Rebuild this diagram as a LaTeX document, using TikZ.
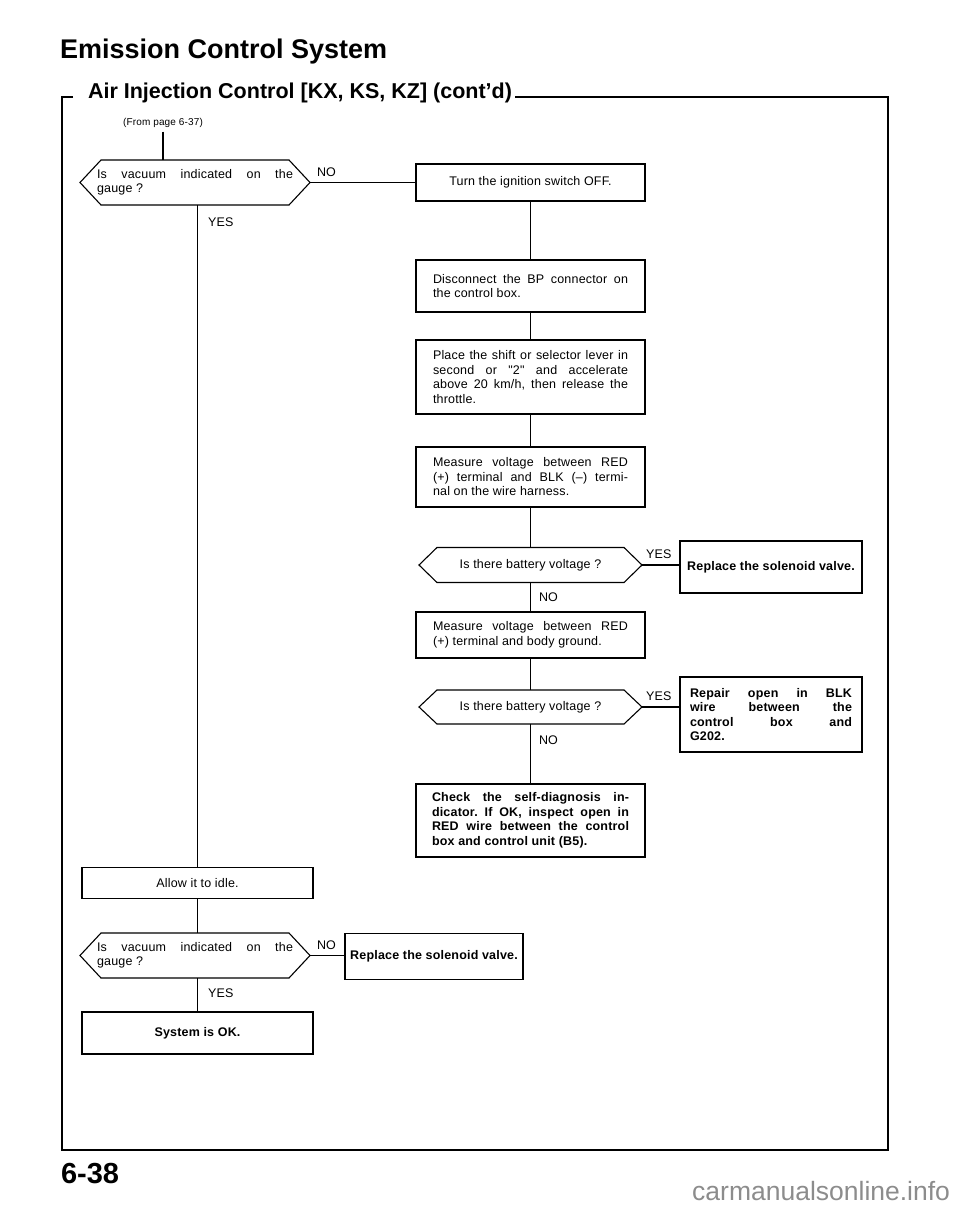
\documentclass[tikz,border=0pt]{standalone}
\usepackage{fontspec}
\setmainfont{Liberation Sans}
\newfontfamily\hfont{Liberation Sans}
\newfontfamily\bodyfont[LetterSpace=1.5]{Liberation Sans}
\frenchspacing
\tikzset{
  every node/.style={inner sep=0pt, outer sep=0pt},
  body/.style={font=\bodyfont\fontsize{12.5}{14.5}\selectfont},
  box/.style={draw, line width=1.1pt, body},
  bbox/.style={box, font=\bodyfont\fontsize{12.5}{14.5}\selectfont\bfseries},
  hexa/.style={body},
  lbl/.style={font=\bodyfont\fontsize{12.5}{13}\selectfont},
  conn/.style={line width=1.1pt},
  frame/.style={line width=1.8pt},
}
\newcommand\hexdraw[2]{\draw[conn] (#1.west) -- ([xshift=#2]#1.north west) -- ([xshift=-#2]#1.north east) -- (#1.east) -- ([xshift=-#2]#1.south east) -- ([xshift=#2]#1.south west) -- cycle;}
\begin{document}
\begin{tikzpicture}[x=1pt,y=-1pt]
\useasboundingbox (0,0) rectangle (960,1205);
% header
\node[anchor=base west, font=\hfont\fontsize{27}{30}\selectfont\bfseries] (title) at (60,58) {Emission Control System};
\node[anchor=base west, font=\hfont\fontsize{21.5}{24}\selectfont\bfseries] (sub) at (88,98) {Air Injection Control [KX, KS, KZ] (cont’d)};
\draw[frame] (73,97) -- (62,97) -- (62,1150) -- (888,1150) -- (888,97) -- (515,97);
% flow
\node[font=\bodyfont\fontsize{10}{11}\selectfont] (from) at (163,123) {(From page 6-37)};
\node[hexa, minimum width=230, minimum height=45, text width=196, align=justify] (d1) at (195,182.5) {Is vacuum indicated on the\linebreak gauge ?};
\hexdraw{d1}{21}
\node[box, minimum width=229, minimum height=37, align=center] (b1) at (530.5,182.5) {Turn the ignition switch OFF.};
\node[box, minimum width=229, minimum height=52, text width=195, align=justify] (b2) at (530.5,286) {Disconnect the BP connector on\linebreak the control box.};
\node[box, minimum width=229, minimum height=74, text width=195, align=justify] (b3) at (530.5,377) {Place the shift or selector lever in\linebreak second or {\char34}2{\char34} and accelerate\linebreak above 20 km/h, then release the\linebreak throttle.};
\node[box, minimum width=229, minimum height=60, text width=195, align=justify] (b4) at (530.5,477) {Measure voltage between RED\linebreak (+) terminal and BLK (–) termi-\linebreak nal on the wire harness.};
\node[hexa, minimum width=223, minimum height=35, align=center] (d2) at (530.5,565) {Is there battery voltage ?};
\hexdraw{d2}{18}
\node[bbox, minimum width=182, minimum height=52, align=center] (r1) at (771,567) {Replace the solenoid valve.};
\node[box, minimum width=229, minimum height=46, text width=195, align=justify] (b5) at (530.5,635) {Measure voltage between RED\linebreak (+) terminal and body ground.};
\node[hexa, minimum width=223, minimum height=34, align=center] (d3) at (530.5,707) {Is there battery voltage ?};
\hexdraw{d3}{18}
\node[bbox, minimum width=182, minimum height=75, text width=162, align=justify] (r2) at (771,714.5) {Repair open in BLK\linebreak wire between the\linebreak control box and\linebreak G202.};
\node[bbox, minimum width=229, minimum height=73, text width=197, align=justify] (chk) at (530.5,820.5) {Check the self-diagnosis in-\linebreak dicator. If OK, inspect open in\linebreak RED wire between the control\linebreak box and control unit (B5).};
\node[box, minimum width=231, minimum height=31, align=center] (idle) at (197.5,883) {Allow it to idle.};
\node[hexa, minimum width=230, minimum height=45, text width=196, align=justify] (d4) at (195,955.5) {Is vacuum indicated on the\linebreak gauge ?};
\hexdraw{d4}{21}
\node[bbox, minimum width=178, minimum height=46, align=center] (r3) at (434,956.5) {Replace the solenoid valve.};
\node[bbox, minimum width=231, minimum height=42, align=center] (sys) at (197.5,1033) {System is OK.};
% connectors
\draw[conn] (from.south) ++(0,4) coordinate (fromend) -- (fromend |- d1.north);
\draw[conn] (d1.east) -- (b1.west);
\draw[conn] (d1.south -| idle.north) -- (idle.north);
\draw[conn] (b1.south) -- (b2.north);
\draw[conn] (b2.south) -- (b3.north);
\draw[conn] (b3.south) -- (b4.north);
\draw[conn] (b4.south) -- (d2.north);
\draw[conn] (d2.east) -- (d2.east -| r1.west);
\draw[conn] (d2.south) -- (b5.north);
\draw[conn] (b5.south) -- (d3.north);
\draw[conn] (d3.east) -- (d3.east -| r2.west);
\draw[conn] (d3.south) -- (chk.north);
\draw[conn] (idle.south) -- (idle.south |- d4.north);
\draw[conn] (d4.east) -- (d4.east -| r3.west);
\draw[conn] (d4.south -| sys.north) -- (sys.north);
% labels
\node[lbl, anchor=west] (no1) at (317,172) {NO};
\node[lbl, anchor=west] (yes1) at (208,222) {YES};
\node[lbl, anchor=west] (yes2) at (646,554) {YES};
\node[lbl, anchor=west] (no2) at (539,597) {NO};
\node[lbl, anchor=west] (yes3) at (646,696) {YES};
\node[lbl, anchor=west] (no3) at (539,740) {NO};
\node[lbl, anchor=west] (no4) at (317,945) {NO};
\node[lbl, anchor=west] (yes4) at (208,993) {YES};
% footer
\node[anchor=base west, font=\hfont\fontsize{29}{32}\selectfont\bfseries] (page) at (61,1183) {6-38};
\node[anchor=base east, font=\hfont\fontsize{26.5}{28}\selectfont, text=black!45] (wm) at (950,1200) {carmanualsonline.info};
\end{tikzpicture}
\end{document}
